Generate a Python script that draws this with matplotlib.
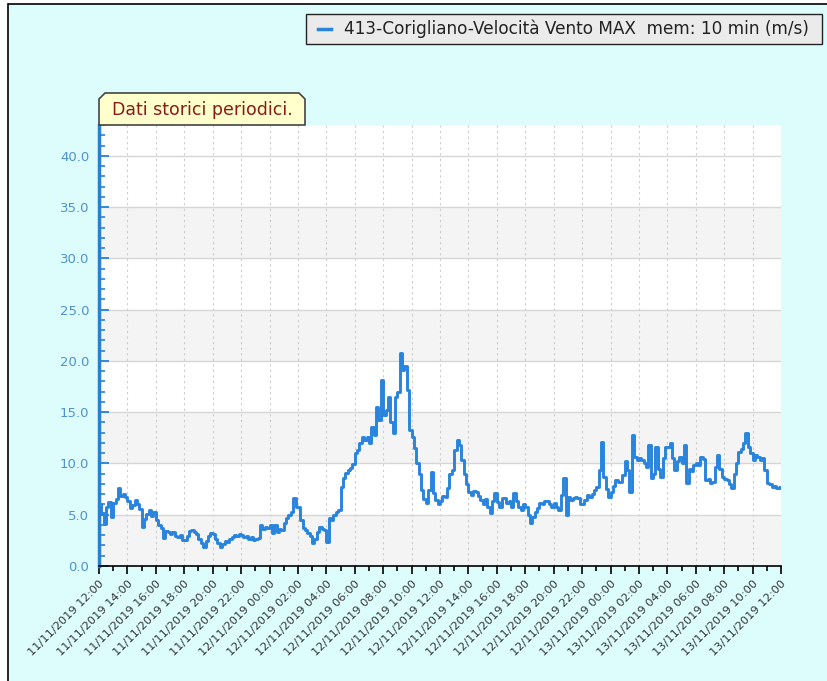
import numpy as np
import pandas as pd
import matplotlib
matplotlib.use('Agg')
import matplotlib.pyplot as plt
import matplotlib.dates as mdates
from matplotlib.ticker import MultipleLocator, FormatStrFormatter
from matplotlib.patches import Rectangle, Polygon
from matplotlib.lines import Line2D

## Data: wind speed max (m/s), one value every 10 min, 11/11/2019 12:00 -> 13/11/2019 12:00
start = '2019-11-11 12:00'
wind = [
    6.0, 5.2, 4.1, 5.8, 6.2, 4.8,     # 12
    6.1, 6.5, 7.6, 6.8, 7.0, 6.7,     # 13
    6.3, 5.7, 5.9, 6.4, 6.0, 5.6,     # 14
    3.8, 4.6, 5.1, 5.5, 4.9, 5.3,     # 15
    4.5, 4.0, 3.7, 2.7, 3.4, 3.3,     # 16
    3.1, 3.3, 2.9, 2.8, 3.0, 2.5,     # 17
    2.5, 2.9, 3.4, 3.5, 3.3, 3.1,     # 18
    2.6, 2.2, 1.9, 2.4, 2.9, 3.2,     # 19
    3.1, 2.6, 2.2, 1.9, 2.1, 2.4,     # 20
    2.35, 2.6, 2.8, 3.0, 2.9, 3.1,    # 21
    3.0, 2.8, 2.9, 2.6, 2.8, 2.5,     # 22
    2.6, 2.7, 4.0, 3.6, 3.8, 3.7,     # 23
    4.0, 3.2, 4.0, 3.3, 3.6, 3.5,     # 00
    4.2, 4.7, 5.0, 5.3, 6.6, 5.8,     # 01
    5.8, 4.5, 3.7, 3.5, 3.2, 2.9,     # 02
    2.2, 2.6, 3.3, 3.8, 3.6, 3.5,     # 03
    2.35, 4.7, 4.5, 5.0, 5.3, 5.5,    # 04
    7.7, 8.6, 9.1, 9.4, 9.6, 9.9,     # 05
    11.0, 11.3, 12.0, 12.6, 12.3, 12.6,  # 06
    12.0, 13.6, 12.8, 15.5, 14.2, 18.1,  # 07
    14.7, 15.2, 16.5, 14.0, 13.0, 16.5,  # 08
    17.0, 20.8, 19.1, 19.5, 17.2, 13.3,  # 09
    12.6, 11.5, 10.0, 9.0, 7.4, 6.5,  # 10
    6.1, 7.4, 9.2, 7.1, 6.4, 6.0,     # 11
    6.3, 6.8, 6.7, 7.6, 9.0, 9.4,     # 12
    11.3, 12.3, 11.8, 10.3, 9.0, 8.0,  # 13
    7.2, 6.9, 7.3, 7.2, 6.8, 6.4,     # 14
    6.0, 6.5, 5.8, 5.2, 6.3, 7.1,     # 15
    6.2, 5.8, 6.6, 6.6, 6.1, 6.3,     # 16
    5.8, 7.1, 6.3, 5.8, 5.5, 6.0,     # 17
    5.8, 5.0, 4.2, 4.8, 5.3, 5.7,     # 18
    6.1, 6.0, 6.3, 6.3, 6.0, 5.8,     # 19
    6.1, 5.8, 5.5, 6.9, 8.6, 5.0,     # 20
    6.7, 6.4, 6.6, 6.7, 6.6, 6.0,     # 21
    6.0, 6.4, 6.9, 6.7, 7.0, 7.4,     # 22
    7.7, 9.4, 12.1, 8.7, 7.5, 6.7,    # 23
    7.2, 7.8, 8.4, 8.2, 8.2, 8.9,     # 00
    10.2, 9.4, 7.2, 12.8, 10.6, 10.3,  # 01
    10.5, 10.3, 10.0, 9.7, 11.8, 8.6,  # 02
    9.0, 11.6, 9.5, 8.7, 10.5, 11.6,  # 03
    11.6, 12.0, 10.5, 9.4, 10.2, 10.6,  # 04
    10.0, 11.8, 8.1, 9.5, 9.3, 9.8,   # 05
    10.0, 9.8, 10.6, 10.4, 8.4, 8.5,  # 06
    8.1, 8.2, 9.7, 10.8, 9.5, 8.7,    # 07
    8.5, 8.4, 8.0, 7.6, 9.0, 10.0,    # 08
    11.1, 11.4, 12.0, 13.0, 11.6, 11.0,  # 09
    10.3, 10.8, 10.6, 10.3, 10.5, 9.4,  # 10
    8.1, 8.0, 7.7, 7.8, 7.6, 7.7,     # 11
    7.6,                              # 12
]
series_label = '413-Corigliano-Velocità Vento MAX  mem: 10 min (m/s)'
note_label = 'Dati storici periodici.'

times = pd.date_range(start, periods=len(wind), freq='10min')

W, H = 827, 681
def fx(px): return px / W
def fy(py): return 1 - py / H

fig = plt.figure(figsize=(W / 100, H / 100), dpi=100, facecolor='white')

# cyan panel with black frame
fig.patches.append(Rectangle((fx(8), -0.05), 1.0, fy(4) + 0.05, transform=fig.transFigure,
                             facecolor='#DDFDFD', edgecolor='black', lw=1.2, zorder=-5))

ax = fig.add_axes([fx(99), fy(566), fx(781) - fx(99), fy(125) - fy(566)])
ax.set_facecolor('white')
for lo in (0, 10, 20, 30):
    ax.axhspan(lo, lo + 5, color='#F4F4F4', lw=0, zorder=0)

ax.plot(times, wind, color='#2884DC', lw=2.1, drawstyle='steps-post', zorder=3)

ax.set_xlim(times[0], times[-1])
ax.set_ylim(0, 43)

# axes ticks
ax.yaxis.set_major_locator(MultipleLocator(5))
ax.yaxis.set_minor_locator(MultipleLocator(1))
ax.yaxis.set_major_formatter(FormatStrFormatter('%.1f'))
ax.xaxis.set_major_locator(mdates.HourLocator(byhour=range(0, 24, 2)))
ax.xaxis.set_minor_locator(mdates.HourLocator())
ax.xaxis.set_major_formatter(mdates.DateFormatter('%d/%m/%Y %H:%M'))

ax.yaxis.grid(True, which='major', color='#D6D6D6', lw=1.0, ls='-', zorder=1)
ax.xaxis.grid(True, which='major', color='#CCCCCC', lw=0.8, ls=(0, (2, 3)), zorder=1)
ax.set_axisbelow(True)

for s in ('top', 'right'):
    ax.spines[s].set_visible(False)
ax.spines['left'].set_color('#2A80D0')
ax.spines['left'].set_linewidth(2.5)
ax.spines['bottom'].set_color('black')
ax.spines['bottom'].set_linewidth(1.2)

ax.tick_params(axis='y', which='major', direction='in', length=7, width=1.3,
               color='#2A80D0', labelcolor='#4F92CF', labelsize=9.5, pad=7)
ax.tick_params(axis='y', which='minor', direction='in', length=4.5, width=1.2, color='#2A80D0')
ax.tick_params(axis='x', which='major', direction='out', length=6, width=1.2,
               color='black', labelcolor='#333333', labelsize=8.2, pad=3)
ax.tick_params(axis='x', which='minor', direction='out', length=3.5, width=1.2, color='black')
plt.setp(ax.get_xticklabels(), rotation=45, ha='right', va='top', rotation_mode='anchor')

# legend box
fig.patches.append(Rectangle((fx(306), fy(44)), fx(822) - fx(306), fy(14) - fy(44),
                             transform=fig.transFigure, facecolor='#EBEBEB',
                             edgecolor='#222222', lw=1.0, zorder=2))
fig.lines.append(Line2D([fx(318), fx(331)], [fy(29), fy(29)], transform=fig.transFigure,
                        color='#2884DC', lw=2.5, zorder=3))
fig.text(fx(344), fy(29), series_label, fontsize=12.2, color='#222222', va='center', ha='left')

# note tag
tag = [(99, 125), (99, 99), (105, 93), (299, 93), (305, 99), (305, 125)]
fig.patches.append(Polygon([(fx(x), fy(y)) for x, y in tag], closed=True, transform=fig.transFigure,
                           facecolor='#FFFFCC', edgecolor='#444444', lw=1.2, zorder=2))
fig.text(fx(202), fy(110), note_label, fontsize=12.5, color='#8B1A1A', va='center', ha='center')

fig.savefig('out.png', dpi=100)
